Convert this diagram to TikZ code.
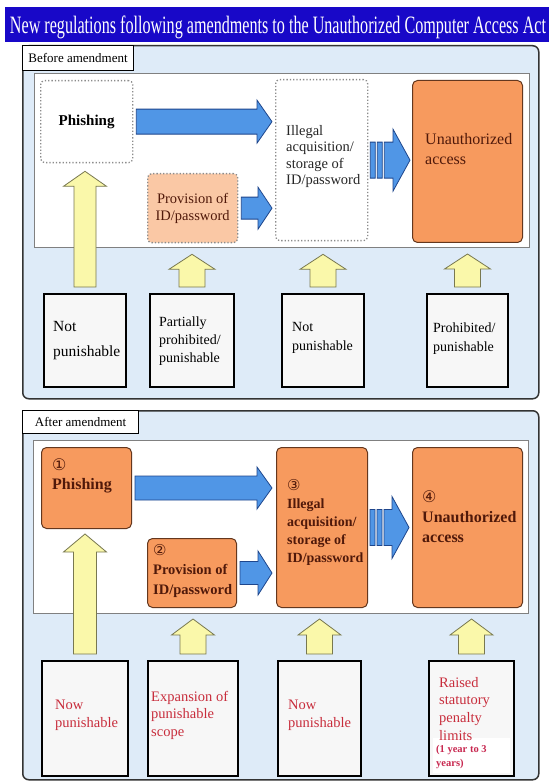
\documentclass[tikz,border=0pt]{standalone}
\usepackage{fontspec}
\usepackage{graphicx}
\setmainfont{Liberation Serif}
\newfontfamily\symfont{DejaVu Sans}
\usetikzlibrary{calc}
\definecolor{titleblue}{RGB}{24,8,200}
\definecolor{panelblue}{RGB}{222,235,248}
\definecolor{arrblue}{RGB}{80,150,230}
\definecolor{arrblueD}{RGB}{30,70,140}
\definecolor{orangeF}{RGB}{247,154,94}
\definecolor{orangeD}{RGB}{100,55,30}
\definecolor{peach}{RGB}{250,200,165}
\definecolor{yelF}{RGB}{250,248,170}
\definecolor{yelD}{RGB}{120,120,80}
\definecolor{brownT}{RGB}{80,25,10}
\definecolor{redT}{RGB}{200,45,60}
\definecolor{magT}{RGB}{200,40,80}
\newcommand\boxat[6]{\node[#2, anchor=north west, inner sep=0pt, minimum width={(#5-#3)*1pt}, minimum height={(#6-#4)*1pt}] (#1) at (#3,#4) {};}
\newcommand\harr[6]{\path[#1] let \p1=(#2), \p2=(#3) in (\x1,\y1+#4pt) -- (\x2-#6pt,\y1+#4pt) -- (\x2-#6pt,\y1+#5pt) -- (\x2,\y1) -- (\x2-#6pt,\y1-#5pt) -- (\x2-#6pt,\y1-#4pt) -- (\x1,\y1-#4pt) -- cycle;}
\newcommand\varr[6]{\path[#1] let \p1=(#2), \p2=(#3) in (\x1-#4pt,\y1) -- (\x1-#4pt,\y2-#6pt) -- (\x1-#5pt,\y2-#6pt) -- (\x1,\y2) -- (\x1+#5pt,\y2-#6pt) -- (\x1+#4pt,\y2-#6pt) -- (\x1+#4pt,\y1) -- cycle;}
\newcommand\sarr[2]{\path[bluearr] let \p1=(#1), \p2=(#2) in (\x1,\y1-18pt) rectangle (\x1+5pt,\y1+18pt) (\x1+7pt,\y1-18pt) rectangle (\x1+12pt,\y1+18pt) (\x1+14pt,\y1-18pt) -- (\x2-17pt,\y1-18pt) -- (\x2-17pt,\y1-31pt) -- (\x2,\y1) -- (\x2-17pt,\y1+31pt) -- (\x2-17pt,\y1+18pt) -- (\x1+14pt,\y1+18pt) -- cycle;}
\begin{document}
\begin{tikzpicture}[x=1pt,y=-1pt,
  panel/.style={draw=black!80, line width=1.5pt, fill=panelblue, rounded corners=6pt},
  tab/.style={draw=black, line width=1.2pt, fill=white, inner sep=0pt, font=\fontsize{13}{14}\selectfont},
  innerp/.style={draw=black!50, line width=1pt, fill=white},
  dotbox/.style={draw=black!45, dotted, line width=1.3pt, rounded corners=4pt, fill=white},
  orbox/.style={draw=orangeD, line width=1pt, fill=orangeF, rounded corners=5pt},
  statbox/.style={draw=black, line width=2pt, fill=black!3},
  bluearr/.style={fill=arrblue, draw=arrblueD, line width=0.8pt},
  yelarr/.style={fill=yelF, draw=yelD, line width=0.8pt},
  txt/.style={anchor=north west, inner sep=0pt, align=left},
  mid/.style={font=\fontsize{14.5}{17}\selectfont},
]
\useasboundingbox (0,0) rectangle (549,783);
% title
\boxat{title}{fill=titleblue}{5}{7}{549}{42}
\node[text=white, inner sep=0pt] (titletxt) at (278,27.5) {\resizebox*{536pt}{23pt}{New regulations following amendments to the Unauthorized Computer Access Act}};

% ---------- BEFORE ----------
\boxat{pA}{panel}{22}{45}{538}{398}
\node[tab, anchor=north west, minimum width=111pt, minimum height=25pt] (tabA) at (22,45) {Before amendment};
\boxat{iA}{innerp}{34}{73}{529}{247}
\boxat{phA}{dotbox}{40}{80}{132}{162}
\node[font=\fontsize{15}{17}\selectfont\bfseries] (phAt) at (phA.center) {Phishing};
\boxat{provA}{dotbox, fill=peach}{147}{173}{237}{242}
\node[mid, align=center, text=brownT] (provAt) at (provA.center) {Provision of\\ID/password};
\boxat{ilA}{dotbox}{275}{79}{367}{240}
\node[txt, font=\fontsize{14.5}{16.5}\selectfont, text=black!85] (ilAt) at (286,125) {Illegal\\acquisition/\\storage of\\ID/password};
\boxat{unA}{orbox}{412}{80}{522}{242}
\node[txt, font=\fontsize{16}{20}\selectfont, text=brownT] (unAt) at (425,133) {Unauthorized\\access};

\boxat{b1A}{statbox}{43}{293}{125}{386}
\boxat{b2A}{statbox}{149}{293}{233}{386}
\boxat{b3A}{statbox}{281}{293}{363}{386}
\boxat{b4A}{statbox}{426}{293}{507}{386}
\node[txt, font=\fontsize{15.5}{25}\selectfont] (b1At) at (53,321) {Not\\punishable};
\node[txt, font=\fontsize{14}{18}\selectfont] (b2At) at (159,317) {Partially\\prohibited/\\punishable};
\node[txt, font=\fontsize{14}{19}\selectfont] (b3At) at (292,322) {Not\\punishable};
\node[txt, font=\fontsize{14}{19}\selectfont] (b4At) at (433,323) {Prohibited/\\punishable};

\coordinate (a1s) at ([xshift=3pt]phA.east);
\coordinate (a1e) at ([xshift=-3pt]ilA.west);
\harr{bluearr}{a1s}{a1e}{12.5}{21.5}{15}
\coordinate (a2s) at ([xshift=3pt]provA.east);
\coordinate (a2e) at ([xshift=-3pt]ilA.west);
\harr{bluearr}{a2s}{a2e}{11}{21}{14}
\coordinate (a3s) at ([xshift=2pt]ilA.east);
\coordinate (a3e) at ([xshift=-2pt]unA.west);
\sarr{a3s}{a3e}

\coordinate (y1s) at ([yshift=6pt]b1A.north);
\coordinate (y1e) at ([yshift=-8pt]phA.south);
\varr{yelarr}{y1s}{y1e}{11}{21.5}{15}
\coordinate (y2s) at ([yshift=6pt]b2A.north);
\coordinate (y2e) at ([yshift=-11pt]provA.south);
\varr{yelarr}{y2s}{y2e}{13}{23}{15}
\coordinate (y3s) at ([yshift=6pt]b3A.north);
\coordinate (y3e) at ([yshift=-13pt]ilA.south);
\varr{yelarr}{y3s}{y3e}{13}{23}{15}
\coordinate (y4s) at ([yshift=6pt]b4A.north);
\coordinate (y4e) at ([yshift=-11pt]unA.south);
\varr{yelarr}{y4s}{y4e}{13}{23}{15}

% ---------- AFTER ----------
\boxat{pB}{panel}{22}{410}{538}{779}
\node[tab, anchor=north west, minimum width=116pt, minimum height=23pt] (tabB) at (22,410) {After amendment};
\boxat{iB}{innerp}{33}{440}{528}{613}
\boxat{phB}{orbox}{41}{447}{131}{528}
\node[txt, font=\fontsize{16}{19}\selectfont\bfseries, text=brownT] (phBt) at (52,458) {{\symfont\mdseries\fontsize{16}{19}\selectfont ①}\\Phishing};
\boxat{provB}{orbox}{147}{538}{236}{607}
\node[txt, font=\fontsize{14.5}{19.5}\selectfont\bfseries, text=brownT] (provBt) at (153,544) {{\symfont\mdseries\fontsize{15}{19}\selectfont ②}\\Provision of\\ID/password};
\boxat{ilB}{orbox}{276}{447}{367}{607}
\node[txt, font=\fontsize{14}{18}\selectfont\bfseries, text=brownT] (ilBt) at (287,479) {{\symfont\mdseries\fontsize{15}{18}\selectfont ③}\\Illegal\\acquisition/\\storage of\\ID/password};
\boxat{unB}{orbox}{412}{447}{522}{607}
\node[txt, font=\fontsize{16}{20}\selectfont\bfseries, text=brownT] (unBt) at (422,490) {{\symfont\mdseries\fontsize{16}{20}\selectfont ④}\\Unauthorized\\access};

\boxat{b1B}{statbox}{41}{660}{127}{775}
\boxat{b2B}{statbox}{147}{660}{237}{775}
\boxat{b3B}{statbox}{277}{660}{360}{775}
\boxat{b4B}{statbox}{428}{660}{513}{775}
\boxat{patch}{fill=white}{433}{738}{510}{773}
\node[txt, font=\fontsize{14.5}{18}\selectfont, text=redT] (b1Bt) at (55,700) {Now\\punishable};
\node[txt, font=\fontsize{14.5}{17.5}\selectfont, text=redT] (b2Bt) at (151,691) {Expansion of\\punishable\\scope};
\node[txt, font=\fontsize{14.5}{18}\selectfont, text=redT] (b3Bt) at (288,700) {Now\\punishable};
\node[txt, font=\fontsize{14.5}{17.7}\selectfont, text=redT] (b4Bt) at (439,677) {Raised\\statutory\\penalty\\limits};
\node[txt, font=\fontsize{10.5}{14}\selectfont\bfseries, text=magT] (b4Bn) at (436,745) {(1 year to 3\\years)};

\coordinate (c1s) at ([xshift=3pt]phB.east);
\coordinate (c1e) at ([xshift=-4pt]ilB.west);
\harr{bluearr}{c1s}{c1e}{12}{21}{15}
\coordinate (c2s) at ([xshift=3pt]provB.east);
\coordinate (c2e) at ([xshift=-4pt]ilB.west);
\harr{bluearr}{c2s}{c2e}{11.5}{22}{14}
\coordinate (c3s) at ([xshift=2pt]ilB.east);
\coordinate (c3e) at ([xshift=-3pt]unB.west);
\sarr{c3s}{c3e}

\coordinate (z1s) at ([yshift=6pt]b1B.north);
\coordinate (z1e) at ([yshift=-5pt]phB.south);
\varr{yelarr}{z1s}{z1e}{11.5}{21.5}{18}
\coordinate (z2s) at ([yshift=6pt]b2B.north);
\coordinate (z2e) at ([yshift=-11pt]provB.south);
\varr{yelarr}{z2s}{z2e}{13}{21.5}{16}
\coordinate (z3s) at ([yshift=6pt]b3B.north);
\coordinate (z3e) at ([yshift=-11pt]ilB.south);
\varr{yelarr}{z3s}{z3e}{13}{21.5}{16}
\coordinate (z4s) at ([yshift=6pt]b4B.north);
\coordinate (z4e) at ([yshift=-11pt]unB.south);
\varr{yelarr}{z4s}{z4e}{13}{21.5}{16}
\end{tikzpicture}
\end{document}
